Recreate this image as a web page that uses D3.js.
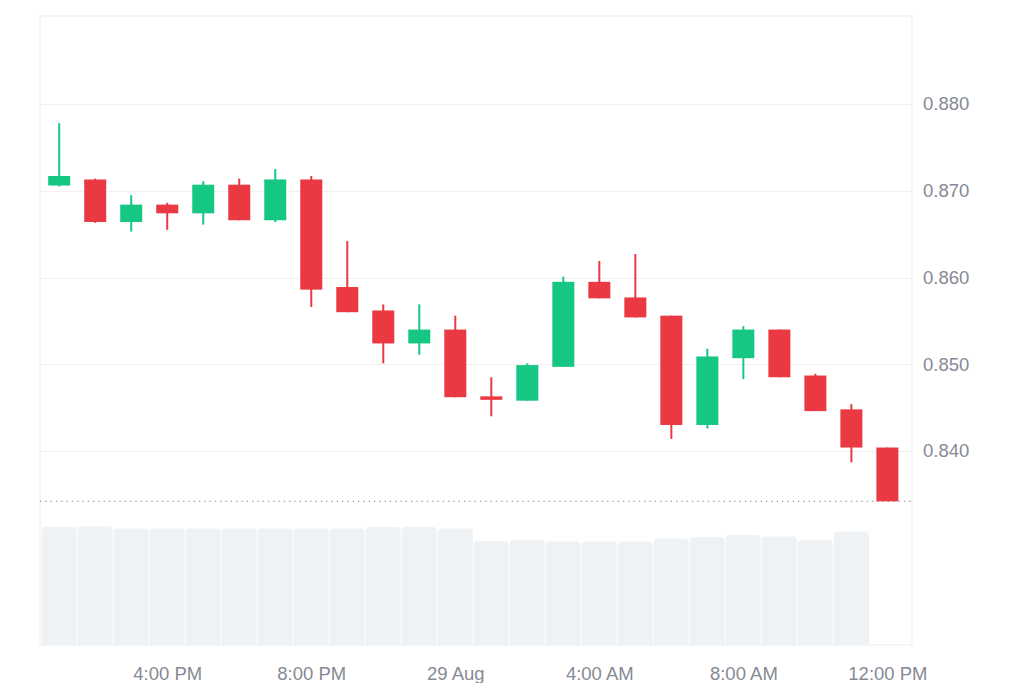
<!DOCTYPE html>
<html><head><meta charset="utf-8">
<script src="https://cdn.jsdelivr.net/npm/d3@7"></script>
<style>html,body{margin:0;padding:0;background:#fff;}svg{display:block;}</style>
</head><body>
<svg id="chart" width="1024" height="683"></svg>
<script>
// Hourly candles, 28 Aug 1:00 PM -> 29 Aug 12:00 PM
const hours = d3.range(24).map(i => new Date(2024, 7, 28, 13 + i));
const opens  = [0.8706,0.8713,0.8664,0.8684,0.8674,0.8707,0.8666,0.8713,0.8589,0.8562,0.8524,0.8540,0.8463,0.8458,0.8497,0.8595,0.8577,0.8556,0.8430,0.8507,0.8540,0.8487,0.8448,0.8404];
const highs  = [0.8778,0.8714,0.8695,0.8686,0.8711,0.8714,0.8725,0.8717,0.8642,0.8569,0.8569,0.8556,0.8485,0.8501,0.8601,0.8619,0.8627,0.8556,0.8518,0.8544,0.8540,0.8489,0.8454,0.8404];
const lows   = [0.8705,0.8663,0.8653,0.8655,0.8661,0.8666,0.8664,0.8566,0.8560,0.8501,0.8511,0.8462,0.8440,0.8458,0.8497,0.8576,0.8554,0.8414,0.8426,0.8483,0.8485,0.8446,0.8387,0.8342];
const closes = [0.8717,0.8664,0.8684,0.8674,0.8707,0.8666,0.8713,0.8586,0.8560,0.8524,0.8540,0.8462,0.8459,0.8499,0.8595,0.8576,0.8554,0.8430,0.8509,0.8540,0.8485,0.8446,0.8404,0.8342];
// Volume (relative units) for the 23 completed hours
const volumes = [118,118.5,116.5,116.5,116.5,116.5,116.5,116.5,116.5,118,118,116.5,104,105,103.5,103.5,103.5,106.5,108,110,108.5,105,113.5];
const priceTicks = [0.840,0.850,0.860,0.870,0.880];

const svg = d3.select('#chart');
const L = 40, R = 912, T = 16, B = 645;
const UP = '#16c784', DOWN = '#ea3943';
const FONT = '"Liberation Sans", Arial, Helvetica, sans-serif';
const TXT = '#858a94';

const x = d3.scaleTime()
  .domain([new Date(2024,7,28,12,28), new Date(2024,7,29,12,41)])
  .range([L, R]);
const step = x(hours[1]) - x(hours[0]);
const y = d3.scaleLinear().domain([0.840, 0.880]).range([451, 104]);
const yv = d3.scaleLinear().domain([0, 130]).range([B, B - 130]);

// frame
svg.append('rect').attr('x', L).attr('y', T).attr('width', R - L).attr('height', B - T)
  .attr('fill', 'none').attr('stroke', '#ededed').attr('stroke-width', 1);

// grid
svg.append('g').selectAll('line').data(priceTicks).join('line')
  .attr('x1', L).attr('x2', R)
  .attr('y1', d => Math.round(y(d)) + 0.5).attr('y2', d => Math.round(y(d)) + 0.5)
  .attr('stroke', '#f0f0f0').attr('stroke-width', 1);

// volume bars with rounded tops
const vr = 4;
svg.append('g').selectAll('path').data(volumes).join('path')
  .attr('fill', '#eff2f5')
  .attr('d', (v, i) => {
    const cx = x(hours[i]);
    const x0 = cx - step / 2 + 0.5, x1 = cx + step / 2 - 0.5;
    const yt = yv(v), yb = yv(0);
    return `M${x0},${yb}V${yt + vr}Q${x0},${yt} ${x0 + vr},${yt}H${x1 - vr}Q${x1},${yt} ${x1},${yt + vr}V${yb}Z`;
  });

// last price dotted line
const last = closes[closes.length - 1];
svg.append('line').attr('x1', L).attr('x2', R)
  .attr('y1', y(last)).attr('y2', y(last))
  .attr('stroke', '#9a9a9a').attr('stroke-width', 1.2).attr('stroke-dasharray', '1.3,4');

// candles
const bodyW = 22;
const cg = svg.append('g').selectAll('g').data(hours).join('g');
cg.append('line')
  .attr('x1', (d) => x(d)).attr('x2', (d) => x(d))
  .attr('y1', (d, i) => y(highs[i])).attr('y2', (d, i) => y(lows[i]))
  .attr('stroke', (d, i) => closes[i] >= opens[i] ? UP : DOWN).attr('stroke-width', 2);
cg.append('rect')
  .attr('x', d => x(d) - bodyW / 2).attr('width', bodyW)
  .attr('y', (d, i) => y(Math.max(opens[i], closes[i])))
  .attr('height', (d, i) => Math.max(1, Math.abs(y(opens[i]) - y(closes[i]))))
  .attr('fill', (d, i) => closes[i] >= opens[i] ? UP : DOWN);

// right price axis
const yAxis = d3.axisRight(y).tickValues(priceTicks).tickFormat(d3.format('.3f')).tickSize(0).tickPadding(11);
const ya = svg.append('g').attr('transform', `translate(${R},0)`).call(yAxis);
ya.select('.domain').remove();
ya.selectAll('text').attr('fill', TXT).style('font-family', FONT).style('font-size', '18.5px');

// bottom time axis
const fmt = d => d.getHours() === 0 ? d3.timeFormat('%-d %b')(d) : d3.timeFormat('%-I:%M %p')(d);
const xAxis = d3.axisBottom(x).ticks(d3.timeHour.every(4)).tickFormat(fmt).tickSize(0).tickPadding(22);
const xa = svg.append('g').attr('transform', `translate(0,${B})`).call(xAxis);
xa.select('.domain').remove();
xa.selectAll('text').attr('fill', TXT).style('font-family', FONT).style('font-size', '18.5px');
</script>
</body></html>
